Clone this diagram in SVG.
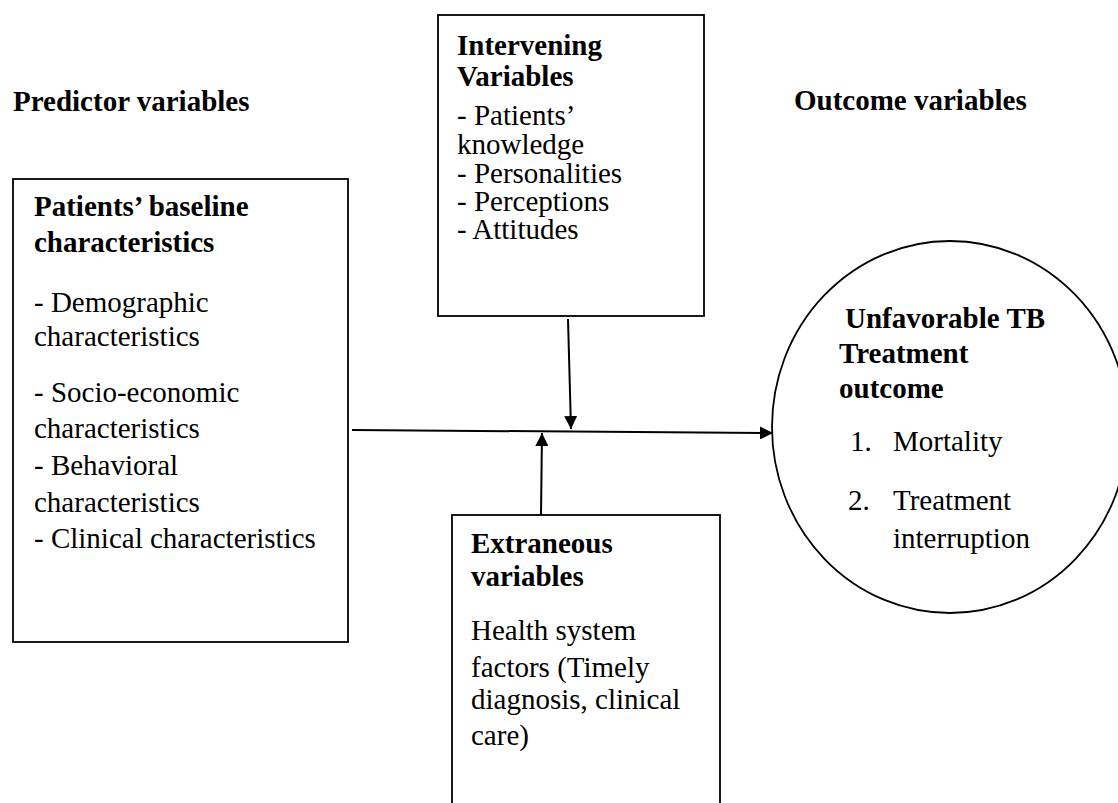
<svg xmlns="http://www.w3.org/2000/svg" width="1118" height="803" viewBox="0 0 1118 803">
<style>
.t{font-family:'Liberation Serif','Times New Roman',Tinos,'DejaVu Serif',serif;font-size:29px;fill:#000}
.b{font-weight:bold}
.box{fill:#fff;stroke:#000;stroke-width:1.8}
.conn{stroke:#000;stroke-width:2;fill:none}
</style>
<defs>
<marker id="ah" markerUnits="userSpaceOnUse" markerWidth="13" markerHeight="13" refX="13" refY="6.5" orient="auto">
<path d="M0,0 L13,6.5 L0,13 z" fill="#000"/>
</marker>
</defs>
<rect width="1118" height="803" fill="#fff"/>
<g class="t" font-family="Liberation Serif, Times New Roman, DejaVu Serif, serif">
<g id="headers">
<text class="b" x="13" y="111">Predictor variables</text>
<text class="b" x="794" y="110">Outcome variables</text>
</g>
<g id="predictor">
<rect class="box" x="13" y="179" width="335" height="463"/>
<text class="b" x="34" y="216">Patients’ baseline</text>
<text class="b" x="34" y="252">characteristics</text>
<text x="34" y="312">- Demographic</text>
<text x="34" y="346">characteristics</text>
<text x="34" y="402">- Socio-economic</text>
<text x="34" y="438">characteristics</text>
<text x="34" y="475">- Behavioral</text>
<text x="34" y="512">characteristics</text>
<text x="34" y="548">- Clinical characteristics</text>
</g>
<g id="intervening">
<rect class="box" x="438" y="15" width="266" height="301"/>
<text class="b" x="457" y="55">Intervening</text>
<text class="b" x="457" y="86">Variables</text>
<text x="457" y="125">- Patients’</text>
<text x="457" y="154">knowledge</text>
<text x="457" y="183">- Personalities</text>
<text x="457" y="211">- Perceptions</text>
<text x="457" y="239">- Attitudes</text>
</g>
<g id="extraneous">
<rect class="box" x="452" y="515" width="268" height="300"/>
<text class="b" x="471" y="553">Extraneous</text>
<text class="b" x="471" y="586">variables</text>
<text x="471" y="640">Health system</text>
<text x="471" y="677">factors (Timely</text>
<text x="471" y="709">diagnosis, clinical</text>
<text x="471" y="745">care)</text>
</g>
<g id="outcome">
<ellipse class="box" cx="950" cy="427" rx="178" ry="186"/>
<text class="b" x="845" y="328">Unfavorable TB</text>
<text class="b" x="839" y="363">Treatment</text>
<text class="b" x="839" y="398">outcome</text>
<text x="850" y="451">1.</text>
<text x="893" y="451">Mortality</text>
<text x="848" y="510">2.</text>
<text x="893" y="510">Treatment</text>
<text x="893" y="548">interruption</text>
</g>
</g>
<g id="connectors">
<line class="conn" x1="352" y1="430" x2="773" y2="433" marker-end="url(#ah)"/>
<line class="conn" x1="568" y1="319" x2="571" y2="429" marker-end="url(#ah)"/>
<line class="conn" x1="541" y1="515" x2="542" y2="433" marker-end="url(#ah)"/>
</g>
</svg>
